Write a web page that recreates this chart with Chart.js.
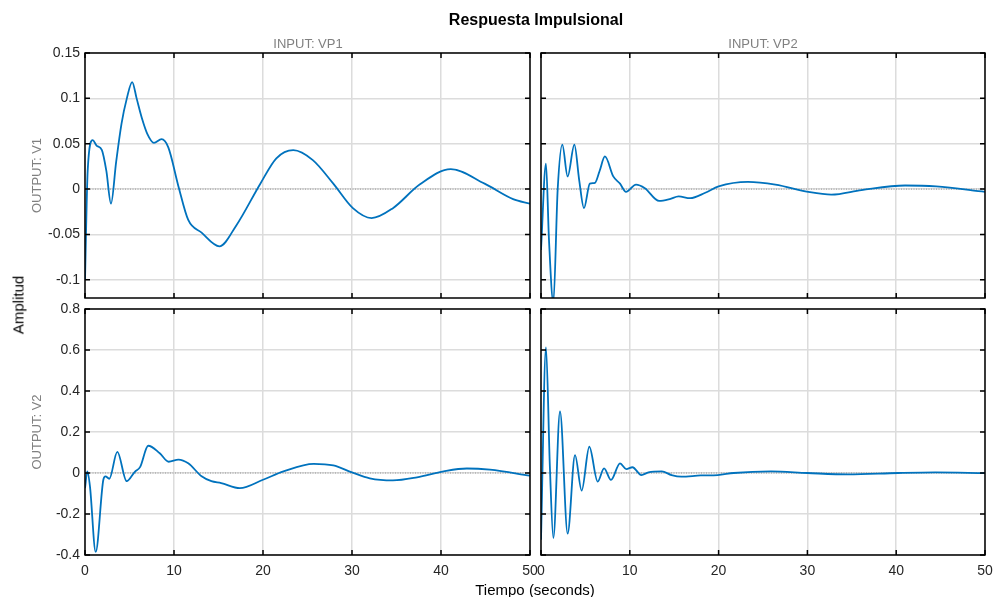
<!DOCTYPE html>
<html>
<head>
<meta charset="utf-8">
<script src="https://cdn.jsdelivr.net/npm/chart.js@4"></script>
<style>
  body { margin: 0; background: #fff; font-family: "Liberation Sans", Arial, sans-serif; }
  #fig { position: relative; width: 995px; height: 597px; overflow: hidden; }
  canvas { position: absolute; }
  .txt { position: absolute; white-space: nowrap; transform: translate(-50%, -50%); }
</style>
</head>
<body>
<div id="fig">
  <canvas id="cTL" width="540" height="300" style="left:0;top:0"></canvas>
  <canvas id="cTR" width="464" height="300" style="left:531px;top:0"></canvas>
  <canvas id="cBL" width="540" height="297" style="left:0;top:300px"></canvas>
  <canvas id="cBR" width="464" height="297" style="left:531px;top:300px"></canvas>
  <div class="txt" style="left:536px;top:20px;font-weight:bold;font-size:16px;color:#000">Respuesta Impulsional</div>
  <div class="txt" style="left:308px;top:43px;font-size:13px;color:#808080">INPUT: VP1</div>
  <div class="txt" style="left:763px;top:43px;font-size:13px;color:#808080">INPUT: VP2</div>
  <div class="txt" style="left:18px;top:305px;font-size:15px;color:#000;transform:translate(-50%,-50%) rotate(-90deg)">Amplitud</div>
  <div class="txt" style="left:535px;top:589px;font-size:15px;color:#000">Tiempo (seconds)</div>
</div>
<script>
// tick values
const xTicks = [0, 10, 20, 30, 40, 50];
const yTicksTop = [-0.1, -0.05, 0, 0.05, 0.1, 0.15];
const yTicksBottom = [-0.4, -0.2, 0, 0.2, 0.4, 0.6, 0.8];

// INPUT VP1 -> OUTPUT V1
const tV1P1 = [0, 0.3, 0.86, 1.3, 1.9, 2.4, 2.92, 3.5, 4.1, 4.7, 5.3, 5.8, 6.37, 7.0, 7.75, 8.6, 9.36, 10.5, 11.6, 13.1, 15.1, 17.0, 19.7, 21.5, 23.4, 25.6, 27.9, 30.1, 32.2, 34.6, 37.6, 41.1, 44.9, 48.1, 50];
const yV1P1 = [-0.1, 0.02, 0.054, 0.048, 0.043, 0.02, -0.016, 0.03, 0.072, 0.1, 0.118, 0.1, 0.079, 0.061, 0.051, 0.055, 0.046, 0.003, -0.034, -0.048, -0.063, -0.04, 0.006, 0.034, 0.043, 0.032, 0.006, -0.021, -0.032, -0.021, 0.005, 0.022, 0.006, -0.011, -0.016];

// INPUT VP2 -> OUTPUT V1
const tV1P2 = [0, 0.56, 0.9, 1.39, 1.88, 2.4, 3.0, 3.76, 4.3, 4.84, 5.5, 6.08, 6.6, 7.2, 8.14, 8.9, 9.57, 10.7, 11.7, 13.3, 14.5, 15.5, 16.8, 18.5, 20.0, 23.3, 26.4, 30.1, 32.7, 36.1, 41.0, 44.5, 50];
const yV1P2 = [-0.067, 0.028, -0.056, -0.125, 0, 0.049, 0.014, 0.049, 0.01, -0.021, 0.006, 0.007, 0.02, 0.036, 0.014, 0.006, -0.003, 0.005, 0.001, -0.013, -0.011, -0.008, -0.01, -0.004, 0.003, 0.008, 0.005, -0.003, -0.006, -0.001, 0.004, 0.003, -0.003];

// INPUT VP1 -> OUTPUT V2
const tV2P1 = [0, 0.26, 0.56, 1.2, 2.06, 2.3, 2.73, 3.63, 4.68, 5.6, 6.2, 7.1, 8.4, 9.4, 10.5, 11.6, 13.1, 14.2, 15.3, 17.4, 20.0, 22.3, 25.7, 27.9, 30.0, 32.0, 34.6, 37.3, 40.3, 42.9, 45.5, 50];
const yV2P1 = [-0.074, 0.008, -0.066, -0.385, -0.033, -0.016, -0.028, 0.103, -0.04, 0.006, 0.03, 0.133, 0.096, 0.055, 0.065, 0.047, -0.016, -0.04, -0.049, -0.074, -0.033, 0.008, 0.045, 0.037, 0.003, -0.026, -0.036, -0.021, 0.008, 0.022, 0.016, -0.013];

// INPUT VP2 -> OUTPUT V2
const tV2P2 = [0, 0.56, 1.0, 1.39, 2.14, 3.0, 3.83, 4.58, 5.44, 6.38, 7.1, 7.88, 8.9, 9.6, 10.3, 11.3, 12.1, 13.6, 14.7, 15.8, 18.0, 19.9, 21.7, 25.9, 30, 34.6, 40.2, 44.4, 50];
const yV2P2 = [-0.325, 0.613, 0.03, -0.317, 0.301, -0.296, 0.087, -0.086, 0.128, -0.042, 0.023, -0.034, 0.047, 0.019, 0.028, -0.01, 0.003, 0.008, -0.01, -0.018, -0.012, -0.01, 0, 0.008, 0, -0.007, 0, 0.003, -0.001];

const FONT = '"Liberation Sans", Arial, sans-serif';

// MATLAB style box with inward ticks
const boxPlugin = {
    id: 'box',
    afterDatasetsDraw(chart) {
        const {ctx, chartArea: a, scales} = chart;
        ctx.save();
        ctx.strokeStyle = '#000';
        ctx.lineWidth = 1.5;
        ctx.beginPath();
        scales.x.ticks.forEach(t => {
            const px = scales.x.getPixelForValue(t.value);
            ctx.moveTo(px, a.top); ctx.lineTo(px, a.top + 5);
            ctx.moveTo(px, a.bottom); ctx.lineTo(px, a.bottom - 5);
        });
        scales.y.ticks.forEach(t => {
            const py = scales.y.getPixelForValue(t.value);
            ctx.moveTo(a.left, py); ctx.lineTo(a.left + 5, py);
            ctx.moveTo(a.right, py); ctx.lineTo(a.right - 5, py);
        });
        ctx.stroke();
        ctx.strokeRect(a.left, a.top, a.right - a.left, a.bottom - a.top);
        ctx.restore();
    }
};

function noPad(s) {
    s.paddingTop = 0;
    s.paddingBottom = 0;
    s.paddingLeft = 0;
    s.paddingRight = 0;
}

function makeChart(id, t, v, o) {
    const pts = t.map((x, i) => ({x: x, y: v[i]}));
    new Chart(document.getElementById(id), {
        type: 'line',
        data: {
            datasets: [
                {
                    data: pts,
                    borderColor: '#0072BD',
                    borderWidth: 1.8,
                    pointRadius: 0,
                    cubicInterpolationMode: 'monotone',
                    order: 1
                },
                {
                    data: [{x: 0, y: 0}, {x: 50, y: 0}],
                    borderColor: '#808080',
                    borderWidth: 0.8,
                    borderDash: [1, 1.5],
                    pointRadius: 0,
                    order: 2
                }
            ]
        },
        options: {
            responsive: false,
            animation: false,
            layout: {padding: {left: 0, right: 10, top: o.padTop, bottom: 0}},
            plugins: {legend: {display: false}, tooltip: {enabled: false}},
            scales: {
                x: {
                    type: 'linear',
                    min: 0,
                    max: 50,
                    afterBuildTicks: s => { s.ticks = xTicks.map(x => ({value: x})); },
                    afterFit: s => { s.height = o.xHeight; noPad(s); },
                    grid: {color: '#dcdcdc', lineWidth: 1.5, drawTicks: false},
                    border: {display: false},
                    ticks: {
                        display: o.xLabels,
                        padding: 8,
                        color: '#262626',
                        font: {family: FONT, size: 14},
                        maxRotation: 0,
                        callback: val => String(val)
                    }
                },
                y: {
                    type: 'linear',
                    min: o.yMin,
                    max: o.yMax,
                    afterBuildTicks: s => { s.ticks = o.yTicks.map(y => ({value: y})); },
                    afterFit: s => { s.width = o.yWidth; noPad(s); },
                    grid: {color: '#dcdcdc', lineWidth: 1.5, drawTicks: false},
                    border: {display: false},
                    ticks: {
                        display: o.yLabels,
                        padding: 5,
                        color: '#262626',
                        font: {family: FONT, size: 14},
                        callback: val => String(val)
                    },
                    title: {
                        display: !!o.yTitle,
                        text: o.yTitle || '',
                        color: '#808080',
                        font: {family: FONT, size: 13},
                        padding: {top: 30, bottom: 0}
                    }
                }
            }
        },
        plugins: [boxPlugin]
    });
}

makeChart('cTL', tV1P1, yV1P1, {padTop: 53, xHeight: 2, xLabels: false, yMin: -0.12, yMax: 0.15, yTicks: yTicksTop, yWidth: 85, yLabels: true, yTitle: 'OUTPUT: V1'});
makeChart('cTR', tV1P2, yV1P2, {padTop: 53, xHeight: 2, xLabels: false, yMin: -0.12, yMax: 0.15, yTicks: yTicksTop, yWidth: 10, yLabels: false});
makeChart('cBL', tV2P1, yV2P1, {padTop: 9, xHeight: 42, xLabels: true, yMin: -0.4, yMax: 0.8, yTicks: yTicksBottom, yWidth: 85, yLabels: true, yTitle: 'OUTPUT: V2'});
makeChart('cBR', tV2P2, yV2P2, {padTop: 9, xHeight: 42, xLabels: true, yMin: -0.4, yMax: 0.8, yTicks: yTicksBottom, yWidth: 10, yLabels: false});
</script>
</body>
</html>
